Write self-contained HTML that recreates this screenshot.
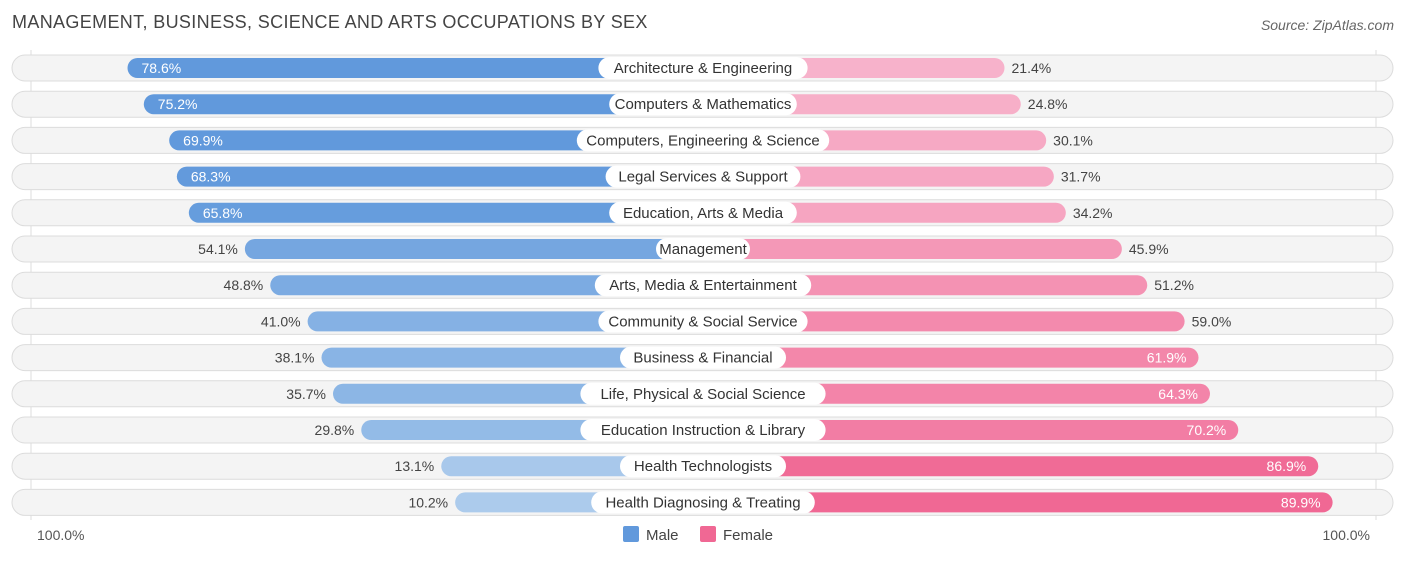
<!DOCTYPE html>
<html><head><meta charset="utf-8"><style>
body{margin:0;background:#fff;font-family:"Liberation Sans",sans-serif;}
svg text{font-family:"Liberation Sans",sans-serif;}
</style></head><body>
<svg id="c" width="1406" height="559" xmlns="http://www.w3.org/2000/svg">
<text x="12" y="28" font-size="18" letter-spacing="0.35" fill="#444">MANAGEMENT, BUSINESS, SCIENCE AND ARTS OCCUPATIONS BY SEX</text>
<text x="1394" y="30" font-size="14" fill="#666" font-style="italic" text-anchor="end">Source: ZipAtlas.com</text>
<line x1="31" y1="50" x2="31" y2="520" stroke="#ddd"/>
<line x1="1376" y1="50" x2="1376" y2="520" stroke="#ddd"/>
<g id="rows"></g>
<text x="37" y="540" font-size="14" fill="#555">100.0%</text>
<text x="1370" y="540" font-size="14" fill="#555" text-anchor="end">100.0%</text>
<g>
<rect x="623" y="526" width="16" height="16" rx="2" fill="#6199dc"/>
<text x="646" y="540" font-size="15" fill="#444">Male</text>
<rect x="700" y="526" width="16" height="16" rx="2" fill="#f06894"/>
<text x="723" y="540" font-size="15" fill="#444">Female</text>
</g>
</svg>
<script>
const categories=["Architecture & Engineering","Computers & Mathematics","Computers, Engineering & Science","Legal Services & Support","Education, Arts & Media","Management","Arts, Media & Entertainment","Community & Social Service","Business & Financial","Life, Physical & Social Science","Education Instruction & Library","Health Technologists","Health Diagnosing & Treating"];
const maleValues=[78.6,75.2,69.9,68.3,65.8,54.1,48.8,41.0,38.1,35.7,29.8,13.1,10.2];
const femaleValues=[21.4,24.8,30.1,31.7,34.2,45.9,51.2,59.0,61.9,64.3,70.2,86.9,89.9];
const NS="http://www.w3.org/2000/svg";
const cx=703, base=199, k=4.79;
function len(v){return base+k*v;}
function rowY(i){return 68+i*36.2;}
function mix(a,b,t){return 'rgb('+a.map((x,j)=>Math.round(x+(b[j]-x)*t)).join(',')+')';}
function mk(tag,attrs,parent){const e=document.createElementNS(NS,tag);for(const a in attrs)e.setAttribute(a,attrs[a]);parent.appendChild(e);return e;}
const g=document.getElementById('rows');
categories.forEach((c,i)=>{
  const y=rowY(i);
  const bg=mk('rect',{x:12,y:y-13,width:1381,height:26,rx:13,fill:'#f4f4f4',stroke:'#dcdcdc'},g);
  
  
  const m=maleValues[i],f=femaleValues[i];
  const ml=len(m), fl=len(f);
  const mb=mk('rect',{x:cx-ml,y:y-10,width:ml,height:20,rx:10,fill:mix([172,203,236],[97,153,220],Math.min(1,Math.max(0,(m-10)/60)))},g);
  
  
  const fb=mk('rect',{x:cx,y:y-10,width:fl,height:20,rx:10,fill:mix([247,180,204],[240,104,148],Math.min(1,Math.max(0,(f-20)/70)))},g);
  
  
  const lw=c.length*7.2+22;
  const lb=mk('rect',{x:cx-lw/2,y:y-11,width:lw,height:22,rx:11,fill:'#fff'},g);
  
  
  const t=mk('text',{x:cx,y:y+5,'font-size':15,fill:'#333','text-anchor':'middle'},g);
  t.textContent=c;
  
  
  const mIn=m>60;
  const mt=mk('text',{x:mIn?cx-ml+14:cx-ml-7,y:y+5,'font-size':14,fill:mIn?'#fff':'#444','text-anchor':mIn?'start':'end'},g);
  mt.textContent=m.toFixed(1)+'%';
  
  
  const fIn=f>60;
  const ft=mk('text',{x:fIn?cx+fl-12:cx+fl+7,y:y+5,'font-size':14,fill:fIn?'#fff':'#444','text-anchor':fIn?'end':'start'},g);
  ft.textContent=f.toFixed(1)+'%';
  
  
});
</script>
</body></html>
